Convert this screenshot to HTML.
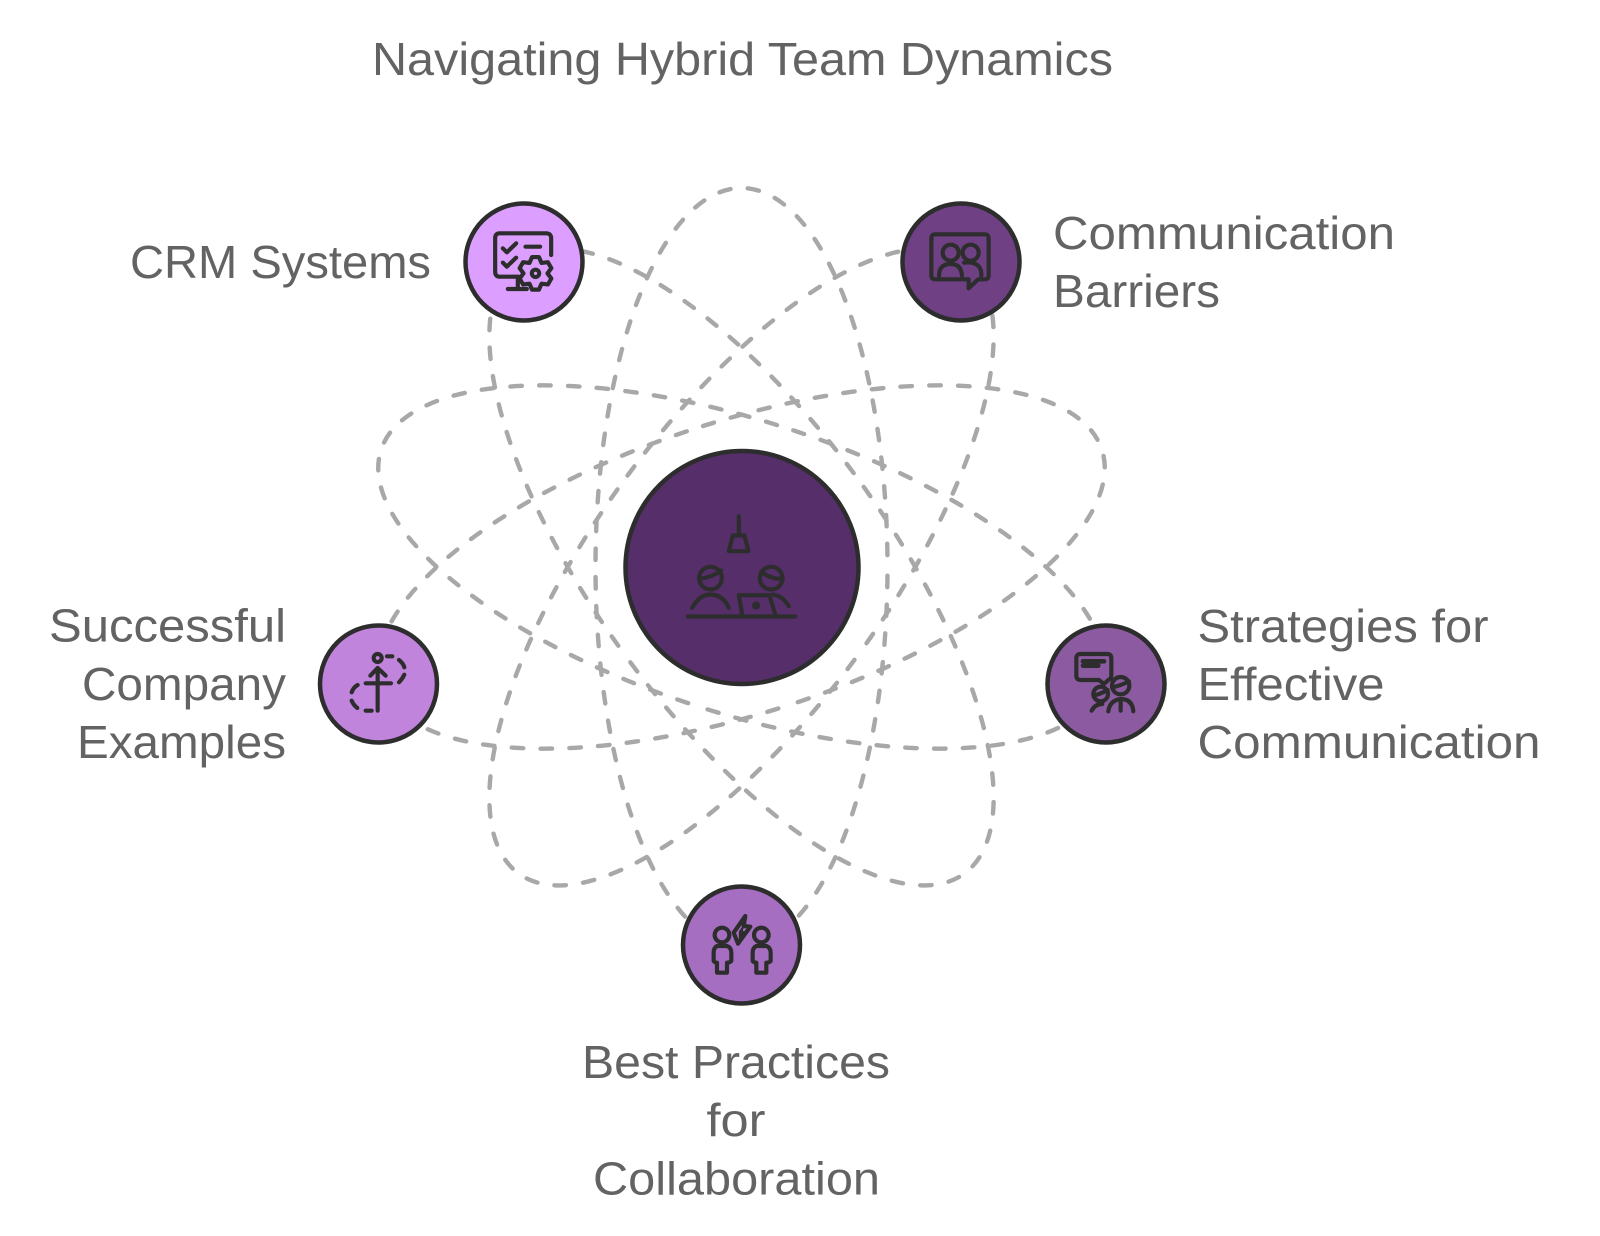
<!DOCTYPE html>
<html><head><meta charset="utf-8"><style>html,body{margin:0;padding:0;background:#fff}svg{display:block}text{font-family:"Liberation Sans",sans-serif;font-size:46.5px;fill:#636363}</style></head><body>
<svg width="1600" height="1236" viewBox="0 0 1600 1236" xmlns="http://www.w3.org/2000/svg">
<rect width="1600" height="1236" fill="#fff"/>
<g fill="none" stroke="#a8a8a8" stroke-width="4.4" stroke-linecap="round" stroke-dasharray="11.5 17.3" stroke-dashoffset="20">
<ellipse cx="741.5" cy="567" rx="146" ry="379"/>
<ellipse cx="741.5" cy="567" rx="146" ry="379" transform="rotate(36 741.5 567)"/>
<ellipse cx="741.5" cy="567" rx="146" ry="379" transform="rotate(72 741.5 567)"/>
<ellipse cx="741.5" cy="567" rx="146" ry="379" transform="rotate(108 741.5 567)"/>
<ellipse cx="741.5" cy="567" rx="146" ry="379" transform="rotate(144 741.5 567)"/>
</g>
<g stroke="#2d2d2d" stroke-width="4.5">
<circle cx="742" cy="567.5" r="116.5" fill="#552e6a"/>
<circle cx="524" cy="262" r="58.5" fill="#dd9fff"/>
<circle cx="961" cy="262" r="58.5" fill="#704085"/>
<circle cx="378.5" cy="684" r="58.5" fill="#c184dd"/>
<circle cx="1106" cy="684" r="58.5" fill="#8b5aa0"/>
<circle cx="741.5" cy="945" r="58.5" fill="#a56ec0"/>
</g>
<g fill="none" stroke="#2d2d2d" stroke-width="12.5" stroke-linecap="round" stroke-linejoin="round">
<g transform="translate(449.5 190) scale(.3333)">
<path d="M305 195V145Q305 130 290 130H150Q137 130 137 145V245Q137 260 150 260H208M205 262V297M175 297H232M160 175L172 187L200 160M160 218L172 230L200 203M228 170H272"/>
<polygon transform="translate(258 250)" points="-10.4,-48.9 10.4,-48.9 18,-31.2 37.2,-33.5 47.6,-15.5 36,0 47.6,15.5 37.2,33.5 18,31.2 10.4,48.9 -10.4,48.9 -18,31.2 -37.2,33.5 -47.6,15.5 -36,0 -47.6,-15.5 -37.2,-33.5 -18,-31.2" fill="#dd9fff"/>
<circle cx="258" cy="250" r="11"/>
</g>
<g transform="translate(878 190) scale(.3333)">
<path d="M270 268H172Q160 268 160 256V145Q160 133 172 133H320Q332 133 332 145V256Q332 268 320 268H300L272 295V268"/>
<circle cx="218" cy="188" r="24"/><path d="M183 258Q183 222 218 222Q250 222 252 258"/>
<circle cx="278" cy="188" r="24"/><path d="M258 218Q312 212 310 258"/>
</g>
<g transform="translate(604.5 434.5) scale(.3333)">
<path d="M403 245V300M385 303H420L432 350H373Z"/>
<circle cx="318" cy="431" r="34"/><path d="M285 433Q320 430 350 408"/>
<circle cx="500" cy="431" r="34"/><path d="M470 412Q500 435 535 433"/>
<path d="M263 520Q285 480 318 480Q355 480 373 520M505 480Q535 485 553 515M250 546H572M413 540L403 482H495L512 540"/>
<circle cx="455" cy="513" r="6" fill="#2d2d2d"/>
</g>
<g transform="translate(305 604) scale(.3333)">
<circle cx="218" cy="162" r="12"/>
<path d="M218 320V192M196 215L218 192L242 215M182 238H258M246 157H262M282 168Q295 178 298 190M298 212Q292 225 282 235M158 243Q145 250 140 265M140 290Q145 303 157 312M182 320H200"/>
</g>
<g transform="translate(1019 604) scale(.3333)">
<path d="M240 228H185Q172 228 172 215V163Q172 150 185 150H265Q277 150 277 163V215Q277 225 268 228L255 240L240 228"/>
<path d="M192 172H255M192 185H238" stroke-width="14"/>
<circle cx="305" cy="245" r="26"/><path d="M280 250Q305 245 330 232"/>
<circle cx="245" cy="270" r="22"/><path d="M224 275Q245 270 266 258"/>
<path d="M218 320Q228 300 250 300M268 322Q272 290 305 285Q340 285 343 322M305 290V320"/>
</g>
<g transform="translate(662 861) scale(.3333)">
<polygon points="250,165 215,215 228,248 265,197 245,195"/>
<path d="M232 212L246 192L240 212L250 212L232 232Z" fill="#2d2d2d" stroke-width="3"/>
<circle cx="180" cy="222" r="22"/>
<path d="M165 255Q155 260 155 275V300Q158 305 165 305V335H195V305Q205 305 208 300V275Q208 260 195 255Z"/>
<circle cx="298" cy="222" r="22"/>
<path d="M283 255Q272 260 272 275V300Q275 305 283 305V335H313V305Q323 305 326 300V275Q326 260 313 255Z"/>
</g>
</g>
<text x="372" y="75" textLength="741" lengthAdjust="spacingAndGlyphs">Navigating Hybrid Team Dynamics</text>
<text x="130" y="278" textLength="301" lengthAdjust="spacingAndGlyphs">CRM Systems</text>
<text x="1053" y="249" textLength="342" lengthAdjust="spacingAndGlyphs">Communication</text>
<text x="1053" y="307" textLength="167" lengthAdjust="spacingAndGlyphs">Barriers</text>
<text x="1197.5" y="642" textLength="291" lengthAdjust="spacingAndGlyphs">Strategies for</text>
<text x="1197.5" y="700" textLength="187" lengthAdjust="spacingAndGlyphs">Effective</text>
<text x="1197.5" y="758" textLength="343" lengthAdjust="spacingAndGlyphs">Communication</text>
<text x="49" y="641.5" textLength="237" lengthAdjust="spacingAndGlyphs">Successful</text>
<text x="82" y="700" textLength="204" lengthAdjust="spacingAndGlyphs">Company</text>
<text x="77" y="758" textLength="209" lengthAdjust="spacingAndGlyphs">Examples</text>
<text x="582" y="1078" textLength="308" lengthAdjust="spacingAndGlyphs">Best Practices</text>
<text x="706.5" y="1136" textLength="59" lengthAdjust="spacingAndGlyphs">for</text>
<text x="593" y="1194.5" textLength="287" lengthAdjust="spacingAndGlyphs">Collaboration</text>
</svg></body></html>
